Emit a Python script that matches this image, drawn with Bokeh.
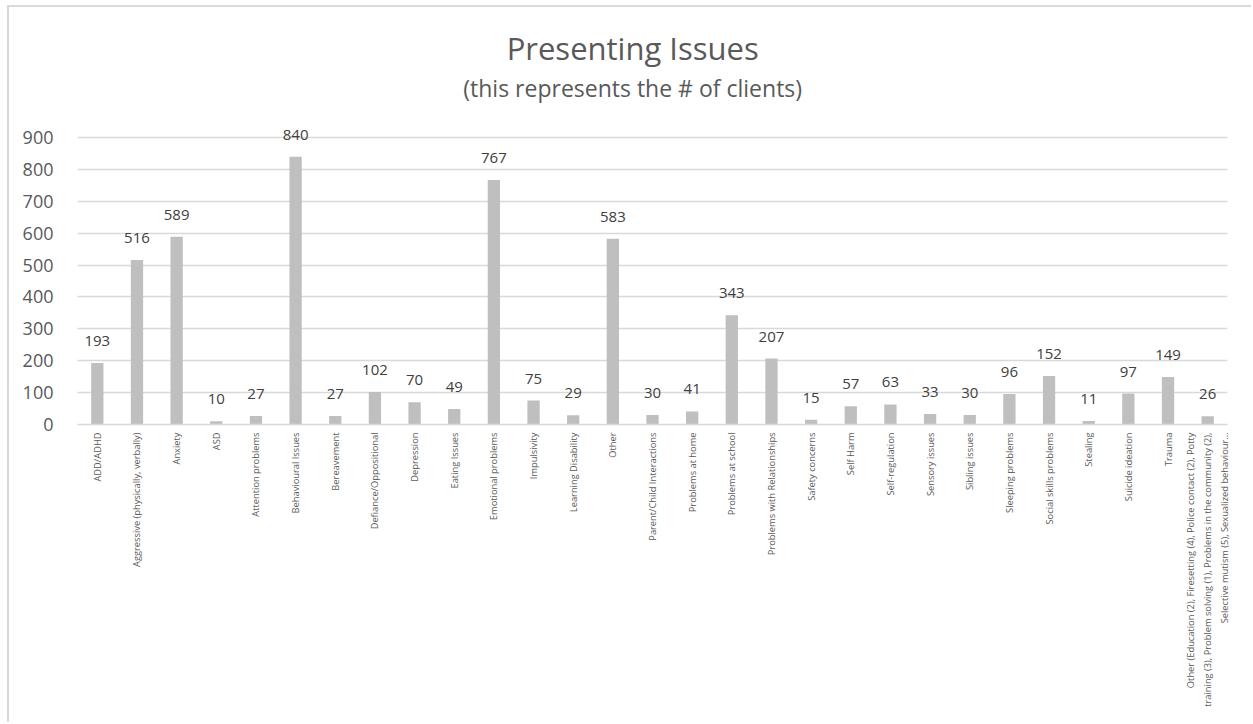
from bokeh.plotting import figure
from bokeh.models import FactorRange, Label, ColumnDataSource
from bokeh.core.properties import value
from bokeh.embed import file_html
from bokeh.resources import INLINE
import math

# Presenting issues and the number of clients for each
issues = [
    "ADD/ADHD",
    "Aggressive (physically, verbally)",
    "Anxiety",
    "ASD",
    "Attention problems",
    "Behavioural Issues",
    "Bereavement",
    "Defiance/Oppositional",
    "Depression",
    "Eating Issues",
    "Emotional problems",
    "Impulsivity",
    "Learning Disability",
    "Other",
    "Parent/Child Interactions",
    "Problems at home",
    "Problems at school",
    "Problems with Relationships",
    "Safety concerns",
    "Self Harm",
    "Self-regulation",
    "Sensory issues",
    "Sibling issues",
    "Sleeping problems",
    "Social skills problems",
    "Stealing",
    "Suicide ideation",
    "Trauma",
    "Other (Education (2), Firesetting (4), Police contact (2), Potty\n"
    "training (3), Problem solving (1), Problems in the community (2),\n"
    "Selective mutism (5), Sexualized behaviour\u2026",
]
clients = [193, 516, 589, 10, 27, 840, 27, 102, 70, 49, 767, 75, 29, 583,
           30, 41, 343, 207, 15, 57, 63, 33, 30, 96, 152, 11, 97, 149, 26]
y_ticks = [0, 100, 200, 300, 400, 500, 600, 700, 800, 900]

title_text = "Presenting Issues"
subtitle_text = "(this represents the # of clients)"

FONT = "Open Sans"

source = ColumnDataSource(dict(
    issue=issues,
    clients=clients,
    label=[str(v) for v in clients],
))

# The value axis reaches above the top gridline to leave room for the titles
p = figure(
    x_range=FactorRange(*issues, range_padding=0),
    y_range=(0, 1308),
    width=1244, height=717,
    min_border_left=68, min_border_right=26,
    min_border_top=0, min_border_bottom=300,
    output_backend="svg", toolbar_location=None,
    margin=(5, 0, 0, 7),
)
p.styles = {"border-top": "2px solid #D9D9D9", "border-left": "2px solid #D9D9D9"}
p.outline_line_color = None
p.background_fill_color = "white"
p.border_fill_color = "white"

p.vbar(x="issue", top="clients", width=0.31, source=source,
       fill_color="#BFBFBF", line_color=None)

p.text(x="issue", y="clients", text="label", source=source,
       text_align="center", text_baseline="alphabetic", y_offset=-22,
       text_font=value(FONT), text_font_size="15px", text_color="#404040")

# Axes
p.yaxis.ticker = y_ticks
p.yaxis.axis_line_color = None
p.yaxis.major_tick_line_color = None
p.yaxis.minor_tick_line_color = None
p.yaxis.major_label_standoff = 18
p.yaxis.major_label_text_font = FONT
p.yaxis.major_label_text_font_size = "18px"
p.yaxis.major_label_text_color = "#595959"

p.xaxis.axis_line_color = "#D9D9D9"
p.xaxis.axis_line_width = 1.5
p.xaxis.major_tick_line_color = None
p.xaxis.minor_tick_line_color = None
p.xaxis.major_label_orientation = math.pi / 2
p.xaxis.major_label_standoff = 2
p.xaxis.major_label_text_font = FONT
p.xaxis.major_label_text_font_size = "9.3px"
p.xaxis.major_label_text_color = "#595959"
p.xaxis.major_label_text_line_height = 1.3

p.xgrid.grid_line_color = None
p.ygrid.grid_line_color = "#D9D9D9"
p.ygrid.grid_line_width = 1.5

# Chart title and subtitle
p.add_layout(Label(x=14.0, y=1182, text=title_text, text_align="center",
                   text_baseline="alphabetic", text_font=FONT,
                   text_font_size="31px", text_color="#595959"))
p.add_layout(Label(x=14.0, y=1056, text=subtitle_text, text_align="center",
                   text_baseline="alphabetic", text_font=FONT,
                   text_font_size="23px", text_color="#595959"))

open("out.html", "w").write(file_html(p, INLINE))
